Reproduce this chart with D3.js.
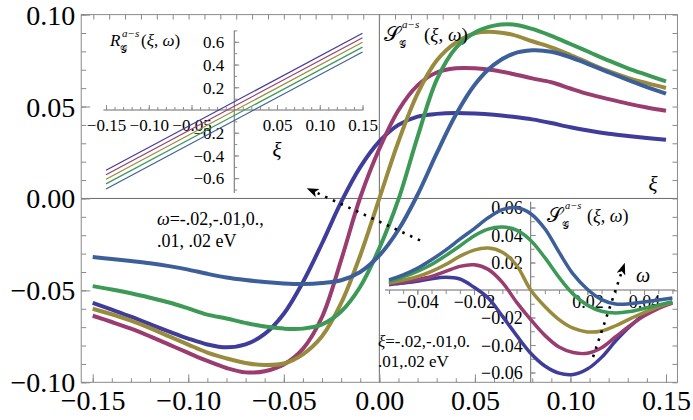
<!DOCTYPE html>
<html><head><meta charset="utf-8">
<script src="https://cdn.jsdelivr.net/npm/d3@7"></script>
<style>
body{margin:0;background:#fff;}
</style>
</head><body>
<svg id="chart" width="693" height="420"></svg>
<script>
// ---------------- DATA ----------------
// main plot: S(xi, omega) vs xi, one series per omega
const xiGrid = [-0.15,-0.14,-0.13,-0.12,-0.11,-0.10,-0.09,-0.08,-0.07,-0.06,-0.05,-0.04,-0.03,-0.02,-0.01,0.00,
                0.01,0.02,0.03,0.04,0.05,0.06,0.07,0.08,0.09,0.10,0.11,0.12,0.13,0.14,0.15];
const omegaValues = [-0.02,-0.01,0.00,0.01,0.02];
const sOmegaM02 = [-0.0568,-0.0605,-0.0643,-0.0684,-0.0724,-0.0762,-0.0794,-0.0810,-0.0794,-0.0737,-0.0627,-0.0455,-0.0245,-0.0020,0.0170,0.0310,
                   0.0400,0.0445,0.0460,0.0465,0.0462,0.0455,0.0444,0.0430,0.0410,0.0387,0.0368,0.0352,0.0340,0.0329,0.0319];
const sOmegaM01 = [-0.0638,-0.0672,-0.0708,-0.0750,-0.0795,-0.0840,-0.0884,-0.0922,-0.0946,-0.0940,-0.0903,-0.0818,-0.0645,-0.0335,0.0005,0.0270,
                   0.0480,0.0615,0.0685,0.0708,0.0708,0.0697,0.0677,0.0653,0.0632,0.0598,0.0566,0.0540,0.0516,0.0495,0.0477];
const sOmega000 = [-0.0600,-0.0630,-0.0665,-0.0705,-0.0750,-0.0795,-0.0838,-0.0870,-0.0895,-0.0906,-0.0898,-0.0848,-0.0750,-0.0570,-0.0310,0.0000,
                   0.0310,0.0570,0.0750,0.0848,0.0898,0.0906,0.0890,0.0855,0.0822,0.0780,0.0735,0.0692,0.0656,0.0627,0.0601];
const sOmegaP01 = [-0.0477,-0.0495,-0.0516,-0.0540,-0.0566,-0.0598,-0.0632,-0.0653,-0.0677,-0.0697,-0.0708,-0.0708,-0.0685,-0.0615,-0.0480,-0.0270,
                   -0.0005,0.0335,0.0645,0.0818,0.0903,0.0940,0.0946,0.0922,0.0884,0.0840,0.0795,0.0750,0.0708,0.0672,0.0637];
const sOmegaP02 = [-0.0319,-0.0329,-0.0340,-0.0352,-0.0368,-0.0387,-0.0410,-0.0430,-0.0444,-0.0455,-0.0462,-0.0465,-0.0460,-0.0445,-0.0400,-0.0310,
                   -0.0170,0.0020,0.0245,0.0455,0.0620,0.0728,0.0787,0.0806,0.0798,0.0768,0.0728,0.0686,0.0645,0.0606,0.0570];

// inset (top-left): R(xi, omega) straight lines, values at the two ends
const rXi = [-0.15, 0.15];
const rOmegaM02 = [-0.530, 0.675];
const rOmegaM01 = [-0.570, 0.636];
const rOmega000 = [-0.610, 0.596];
const rOmegaP01 = [-0.650, 0.553];
const rOmegaP02 = [-0.695, 0.511];

// inset (bottom-right): S(xi, omega) vs omega, one series per xi
const omegaGrid = [-0.05,-0.045,-0.04,-0.035,-0.03,-0.025,-0.02,-0.015,-0.01,-0.005,0,0.005,0.01,0.015,0.02,0.025,0.03,0.035,0.04,0.045,0.05];
const xiValues = [-0.02,-0.01,0.00,0.01,0.02];
const sXiM02 = [0.0039,0.0050,0.0063,0.0082,0.0092,0.0080,0.0020,-0.0058,-0.0190,-0.0330,-0.0460,-0.0553,-0.0605,-0.0614,-0.0575,-0.0490,-0.0370,-0.0265,-0.0180,-0.0125,-0.0090];
const sXiM01 = [0.0044,0.0058,0.0075,0.0098,0.0135,0.0172,0.0183,0.0150,0.0055,-0.0088,-0.0215,-0.0330,-0.0415,-0.0455,-0.0460,-0.0420,-0.0340,-0.0260,-0.0190,-0.0135,-0.0095];
const sXi000 = [0.0050,0.0072,0.0097,0.0135,0.0185,0.0245,0.0290,0.0305,0.0275,0.0180,0.0000,-0.0120,-0.0215,-0.0278,-0.0305,-0.0298,-0.0260,-0.0210,-0.0165,-0.0123,-0.0090];
const sXiP01 = [0.0062,0.0095,0.0135,0.0185,0.0250,0.0320,0.0393,0.0443,0.0458,0.0435,0.0360,0.0235,0.0092,-0.0030,-0.0110,-0.0155,-0.0167,-0.0157,-0.0135,-0.0110,-0.0085];
const sXiP02 = [0.0073,0.0110,0.0158,0.0220,0.0290,0.0370,0.0445,0.0525,0.0585,0.0598,0.0555,0.0445,0.0275,0.0115,0.0005,-0.0070,-0.0102,-0.0100,-0.0087,-0.0073,-0.0058];

// tick labels
const xTickValues = [-0.15,-0.10,-0.05,0.00,0.05,0.10,0.15];
const xTickLabels = ["\u22120.15","\u22120.10","\u22120.05","0.00","0.05","0.10","0.15"];
const yTickValues = [-0.10,-0.05,0.00,0.05,0.10];
const yTickLabels = ["\u22120.10","\u22120.05","0.00","0.05","0.10"];
const rXTickValues = [-0.15,-0.10,-0.05,0.05,0.10,0.15];
const rXTickLabels = ["\u22120.15","\u22120.10","\u22120.05","0.05","0.10","0.15"];
const rYTickValues = [-0.6,-0.4,-0.2,0.2,0.4,0.6];
const rYTickLabels = ["\u22120.6","\u22120.4","\u22120.2","0.2","0.4","0.6"];
const sXTickValues = [-0.04,-0.02,0.02,0.04];
const sXTickLabels = ["\u22120.04","\u22120.02","0.02","0.04"];
const sYTickValues = [-0.06,-0.04,-0.02,0.02,0.04,0.06];
const sYTickLabels = ["\u22120.06","\u22120.04","\u22120.02","0.02","0.04","0.06"];

// annotation arrows (data coordinates)
const mainArrow = {from:[0.0213,-0.0228], to:[-0.0380,0.0056]};
const insetArrow = {from:[0.0220,-0.0487], to:[0.0332,0.0198]};

// ---------------- STYLE ----------------
const colors = ["#3f3d99","#993d71","#998b3d","#3d9956","#3d5f99"];
const frameColor = "#8a8a8a";
const axisColor = "#6a6a6a";
const SERIF = "'Liberation Serif','Times New Roman',serif";
const SCRIPT = "'DejaVu Serif','Noto Sans',serif";

// ---------------- DRAW ----------------
const svg = d3.select("#chart");
const x = d3.scaleLinear().domain([-0.15,0.15]).range([92.7,666.0]);
const y = d3.scaleLinear().domain([-0.10,0.10]).range([382.3,14.6]);
const fL = x(-0.156), fR = x(0.156), fT = y(0.10), fB = y(-0.10);

svg.append("rect").attr("x",fL).attr("y",fT).attr("width",fR-fL).attr("height",fB-fT)
  .attr("fill","none").attr("stroke",frameColor).attr("stroke-width",1);
svg.append("line").attr("x1",fL).attr("x2",fR).attr("y1",y(0)).attr("y2",y(0)).attr("stroke",axisColor).attr("stroke-width",1);
svg.append("line").attr("x1",x(0)).attr("x2",x(0)).attr("y1",fT).attr("y2",fB).attr("stroke",axisColor).attr("stroke-width",1);

function styleAxis(g, size){
  g.select(".domain").remove();
  g.selectAll("line").attr("stroke",frameColor);
  g.attr("font-family",SERIF).attr("font-size",size);
  g.selectAll("text").attr("font-family",SERIF).attr("fill","#000");
}
const minorX = d3.range(-15,16).map(i=>i/100);
const minorY = d3.range(-10,11).map(i=>i/100);

svg.append("g").attr("transform",`translate(0,${fB})`)
  .call(d3.axisBottom(x).tickValues(minorX).tickFormat("").tickSizeInner(-4).tickSizeOuter(0)).call(g=>styleAxis(g,0));
svg.append("g").attr("transform",`translate(0,${fB})`)
  .call(d3.axisBottom(x).tickValues(xTickValues).tickFormat((d,i)=>xTickLabels[i]).tickSizeInner(-8).tickSizeOuter(0))
  .call(g=>{styleAxis(g,28); g.selectAll("text").attr("y",28).attr("dy",null);});
svg.append("g").attr("transform",`translate(${fL},0)`)
  .call(d3.axisLeft(y).tickValues(minorY).tickFormat("").tickSizeInner(-5).tickSizeOuter(0)).call(g=>styleAxis(g,0));
svg.append("g").attr("transform",`translate(${fL},0)`)
  .call(d3.axisLeft(y).tickValues(yTickValues).tickFormat((d,i)=>yTickLabels[i]).tickSizeInner(-9).tickSizeOuter(0).tickPadding(6))
  .call(g=>{styleAxis(g,28); g.selectAll("text").attr("dy","0.34em");});
svg.append("g").attr("transform",`translate(${fR},0)`)
  .call(d3.axisRight(y).tickValues(minorY).tickFormat("").tickSizeInner(-5).tickSizeOuter(0)).call(g=>styleAxis(g,0));
const topScale = d3.scaleLinear().domain([0,36]).range([93.3,665.0]);
svg.append("g").attr("transform",`translate(0,${fT})`)
  .call(d3.axisTop(topScale).tickValues(d3.range(0,37)).tickFormat("").tickSizeInner(-5).tickSizeOuter(0)).call(g=>styleAxis(g,0));

// ---------- inset 1 : R ----------
const xR = d3.scaleLinear().domain([-0.15,0.15]).range([106.0,362.5]);
const yR = d3.scaleLinear().domain([-0.6,0.6]).range([178.2,41.8]);
const gR = svg.append("g");
gR.append("line").attr("x1",xR(-0.153)).attr("x2",xR(0.151)).attr("y1",yR(0)).attr("y2",yR(0)).attr("stroke",axisColor);
gR.append("line").attr("x1",xR(0)).attr("x2",xR(0)).attr("y1",yR(0.70)).attr("y2",yR(-0.73)).attr("stroke",axisColor);
gR.append("g").attr("transform",`translate(0,${yR(0)})`)
  .call(d3.axisBottom(xR).tickValues(d3.range(-15,16).filter(i=>i!==0).map(i=>i/100)).tickFormat("").tickSizeInner(-3).tickSizeOuter(0)).call(g=>styleAxis(g,0));
gR.append("g").attr("transform",`translate(0,${yR(0)})`)
  .call(d3.axisBottom(xR).tickValues(rXTickValues).tickFormat((d,i)=>rXTickLabels[i]).tickSizeInner(-5).tickSizeOuter(0))
  .call(g=>{styleAxis(g,17); g.selectAll("text").attr("y",21).attr("dy",null);});
gR.append("g").attr("transform",`translate(${xR(0)},0)`)
  .call(d3.axisLeft(yR).tickValues(d3.range(-7,8).filter(i=>i!==0).map(i=>i/10)).tickFormat("").tickSizeInner(-3).tickSizeOuter(0)).call(g=>styleAxis(g,0));
gR.append("g").attr("transform",`translate(${xR(0)},0)`)
  .call(d3.axisLeft(yR).tickValues(rYTickValues).tickFormat((d,i)=>rYTickLabels[i]).tickSizeInner(-5).tickSizeOuter(0).tickPadding(10))
  .call(g=>{styleAxis(g,17); g.selectAll("text").attr("dy","0.34em");});
const rSeries = [rOmegaM02,rOmegaM01,rOmega000,rOmegaP01,rOmegaP02];
const rLine = d3.line().x((d,i)=>xR(rXi[i])).y(d=>yR(d));
gR.selectAll("path.r").data(rSeries).join("path").attr("class","r")
  .attr("d",d=>rLine(d)).attr("fill","none").attr("stroke",(d,i)=>colors[i]).attr("stroke-width",1.2);

// ---------- main curves ----------
const mainSeries = [sOmegaM02,sOmegaM01,sOmega000,sOmegaP01,sOmegaP02];
const mLine = d3.line().x((d,i)=>x(xiGrid[i])).y(d=>y(d)).curve(d3.curveCatmullRom.alpha(0.5));
svg.append("g").selectAll("path").data(mainSeries).join("path")
  .attr("d",d=>mLine(d)).attr("fill","none").attr("stroke",(d,i)=>colors[i])
  .attr("stroke-width",4).attr("stroke-linejoin","round").attr("stroke-linecap","butt");

// ---------- inset 2 : S vs omega ----------
const xS = d3.scaleLinear().domain([-0.05,0.05]).range([389.0,672.4]);
const yS = d3.scaleLinear().domain([-0.06,0.06]).range([372.5,207.5]);
const gS = svg.append("g");
gS.append("line").attr("x1",xS(-0.0514)).attr("x2",xS(0.0510)).attr("y1",yS(0)).attr("y2",yS(0)).attr("stroke",axisColor);
gS.append("line").attr("x1",xS(0)).attr("x2",xS(0)).attr("y1",yS(0.0642)).attr("y2",fB).attr("stroke",axisColor);
gS.append("g").attr("transform",`translate(0,${yS(0)})`)
  .call(d3.axisBottom(xS).tickValues(d3.range(-10,11).filter(i=>i!==0).map(i=>i/200)).tickFormat("").tickSizeInner(4).tickSizeOuter(0)).call(g=>styleAxis(g,0));
gS.append("g").attr("transform",`translate(0,${yS(0)})`)
  .call(d3.axisBottom(xS).tickValues(sXTickValues).tickFormat((d,i)=>sXTickLabels[i]).tickSizeInner(5).tickSizeOuter(0))
  .call(g=>{styleAxis(g,18); g.selectAll("text").attr("y",18).attr("dy",null);});
gS.append("g").attr("transform",`translate(${xS(0)},0)`)
  .call(d3.axisLeft(yS).tickValues(d3.range(-6,7).filter(i=>i!==0).map(i=>i/100)).tickFormat("").tickSizeInner(-4).tickSizeOuter(0)).call(g=>styleAxis(g,0));
gS.append("g").attr("transform",`translate(${xS(0)},0)`)
  .call(d3.axisLeft(yS).tickValues(sYTickValues).tickFormat((d,i)=>sYTickLabels[i]).tickSizeInner(-5).tickSizeOuter(0).tickPadding(8))
  .call(g=>{styleAxis(g,18); g.selectAll("text").attr("dy","0.34em");});
const insetSeries = [sXiM02,sXiM01,sXi000,sXiP01,sXiP02];
const sLine = d3.line().x((d,i)=>xS(omegaGrid[i])).y(d=>yS(d)).curve(d3.curveCatmullRom.alpha(0.5));
gS.selectAll("path.s").data(insetSeries).join("path").attr("class","s")
  .attr("d",d=>sLine(d)).attr("fill","none").attr("stroke",(d,i)=>colors[i])
  .attr("stroke-width",3.5).attr("stroke-linejoin","round");

// ---------- arrows ----------
function dottedArrow(sx, sy, a){
  const x1=sx(a.from[0]), y1=sy(a.from[1]), x2=sx(a.to[0]), y2=sy(a.to[1]);
  const dx=x2-x1, dy=y2-y1, L=Math.hypot(dx,dy), ux=dx/L, uy=dy/L;
  const hl=12, hw=4.5;
  svg.append("line").attr("x1",x1).attr("y1",y1).attr("x2",x2-ux*hl).attr("y2",y2-uy*hl)
    .attr("stroke","#000").attr("stroke-width",2.6).attr("stroke-dasharray","2.5,6");
  const bx=x2-ux*hl, by=y2-uy*hl;
  svg.append("path").attr("d",`M${x2},${y2}L${bx-uy*hw},${by+ux*hw}L${bx+ux*3},${by+uy*3}L${bx+uy*hw},${by-ux*hw}Z`).attr("fill","#000");
}
dottedArrow(x,y,mainArrow);
dottedArrow(xS,yS,insetArrow);

// ---------- texts ----------
function txt(xp, yp, fs, str, opts={}){
  const t = svg.append("text").attr("x",xp).attr("y",yp).attr("font-size",fs)
    .attr("font-family",opts.family||SERIF).attr("fill","#000");
  if(opts.italic) t.attr("font-style","italic");
  if(opts.anchor) t.attr("text-anchor",opts.anchor);
  t.text(str);
  return t;
}
function argText(xp, yp, fs){
  const t = svg.append("text").attr("x",xp).attr("y",yp).attr("font-size",fs).attr("font-family",SERIF).attr("fill","#000");
  t.append("tspan").text("(");t.append("tspan").attr("font-style","italic").text("\u03BE");t.append("tspan").text(", ");
  t.append("tspan").attr("font-style","italic").text("\u03C9");t.append("tspan").text(")");
}
// R title
txt(110,46,17,"R",{italic:true});
txt(122,37,11,"a\u2212s",{italic:true});
txt(120,53,10,"\uD835\uDCA2",{family:SCRIPT});
argText(141,46,17);
txt(277,157,21,"\u03BE",{italic:true,anchor:"middle"});

// S titles
function sTitle(x0, base, fs){
  txt(x0,base,fs+2,"\uD835\uDCAE",{family:SCRIPT});
  txt(x0+18,base-13,fs*0.58,"a\u2212s",{italic:true});
  txt(x0+15,base+7,fs*0.55,"\uD835\uDCA2",{family:SCRIPT});
  argText(x0+40,base,fs);
}
sTitle(384,41,19);
sTitle(547,222,18);

txt(653,191,21,"\u03BE",{italic:true,anchor:"middle"});
txt(643,282,20,"\u03C9",{italic:true,anchor:"middle"});

// notes
const n1 = svg.append("text").attr("x",157).attr("y",225).attr("font-size",18).attr("font-family",SERIF);
n1.append("tspan").attr("font-style","italic").text("\u03C9");
n1.append("tspan").text("=-.02,-.01,0.,");
txt(157,247,18,".01, .02 eV");
const n2 = svg.append("text").attr("x",378).attr("y",347).attr("font-size",17).attr("font-family",SERIF);
n2.append("tspan").attr("font-style","italic").text("\u03BE");
n2.append("tspan").text("=-.02,-.01,0.");
txt(378,367,17,".01,.02 eV");
</script>
</body></html>
